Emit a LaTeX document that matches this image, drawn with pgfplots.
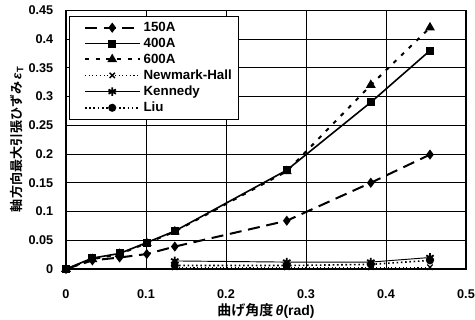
\documentclass[border=0pt]{standalone}
\usepackage{fontspec}
\setmainfont{Liberation Sans}
\newfontfamily\cjk{Noto Sans CJK JP}[BoldFont={* Bold}]
\usepackage{pgfplots}
\pgfplotsset{compat=1.18}
\begin{document}
\begin{tikzpicture}
\begin{axis}[
  scale only axis,
  width=300pt, height=194pt,
  at={(49.5pt,38.25pt)}, anchor=south west,
  xmin=0, xmax=0.5, ymin=0, ymax=0.45,
  xtick={0,0.1,...,0.5}, ytick={0,0.05,...,0.45},
  xticklabels={0,0.1,0.2,0.3,0.4,0.5},
  yticklabels={0,0.05,0.1,0.15,0.2,0.25,0.3,0.35,0.4,0.45},
  tick style={draw=none},
  grid=major, grid style={black, line width=0.6pt},
  axis line style={black, line width=1.1pt},
  ticklabel style={font=\fontsize{9.5}{10}\selectfont\bfseries},
  xticklabel style={yshift=-12pt},
  yticklabel style={xshift=-6pt},
  xlabel={{\cjk\bfseries 曲げ角度}\,\bfseries\itshape θ\upshape(rad)},
  xlabel style={font=\fontsize{10.5}{11}\selectfont, yshift=3pt},
  ylabel={{\cjk\bfseries 軸方向最大引張ひずみ}\,\bfseries\itshape ε\upshape\raisebox{-0.3ex}{\scriptsize T}},
  ylabel style={font=\fontsize{9.8}{11}\selectfont, yshift=-3pt},
  legend style={at={(0.0075,0.98)}, anchor=north west, draw=black, line width=0.8pt,
     font=\fontsize{10}{11}\selectfont\bfseries, row sep=-0.6pt, inner xsep=3pt, inner ysep=2.5pt},
  legend cell align=left,
  legend image code/.code={
    \path[draw=none, fill=none] (0cm,0cm) -- (0.1cm,0cm);
    \draw[#1] (0.3cm,0cm) -- (1.75cm,0cm);
    \draw[#1, solid, only marks] plot coordinates {(1.02cm,0cm)};
  },
]
\addplot[black, line width=1.5pt, dash pattern=on 9pt off 5pt, mark=diamond*, mark size=2.6pt, mark options={solid}]
  coordinates {(0,0) (0.033,0.015) (0.067,0.02) (0.101,0.026) (0.136,0.039) (0.276,0.084) (0.381,0.15) (0.455,0.199)};
\addlegendentry{150A}
\addplot[black, line width=1.2pt, solid, mark=square*, mark size=2.4pt]
  coordinates {(0,0) (0.033,0.019) (0.067,0.027) (0.101,0.046) (0.136,0.066) (0.276,0.172) (0.381,0.29) (0.455,0.38)};
\addlegendentry{400A}
\addplot[black, line width=1.5pt, dash pattern=on 3pt off 5pt, mark=triangle*, mark size=2.8pt, mark options={solid}]
  coordinates {(0,0) (0.033,0.017) (0.067,0.026) (0.101,0.045) (0.136,0.065) (0.276,0.17) (0.381,0.32) (0.455,0.42)};
\addlegendentry{600A}
\addplot[black, line width=0.8pt, dotted, mark=x, mark size=2.8pt, mark options={solid, line width=1pt}]
  coordinates {(0.136,0.003) (0.276,0.003) (0.381,0.003) (0.455,0.003)};
\addlegendentry{Newmark-Hall}
\addplot[black, line width=0.7pt, solid, mark=asterisk, mark size=3.2pt, mark options={line width=1.4pt}]
  coordinates {(0.136,0.014) (0.276,0.012) (0.381,0.012) (0.455,0.02)};
\addlegendentry{Kennedy}
\addplot[black, line width=1.2pt, dotted, mark=*, mark size=2.4pt, mark options={solid}]
  coordinates {(0.136,0.006) (0.276,0.006) (0.381,0.008) (0.455,0.015)};
\addlegendentry{Liu}
\end{axis}
\pgfresetboundingbox
\useasboundingbox (0pt,0pt) rectangle (356.25pt,240pt);
\end{tikzpicture}
\end{document}
